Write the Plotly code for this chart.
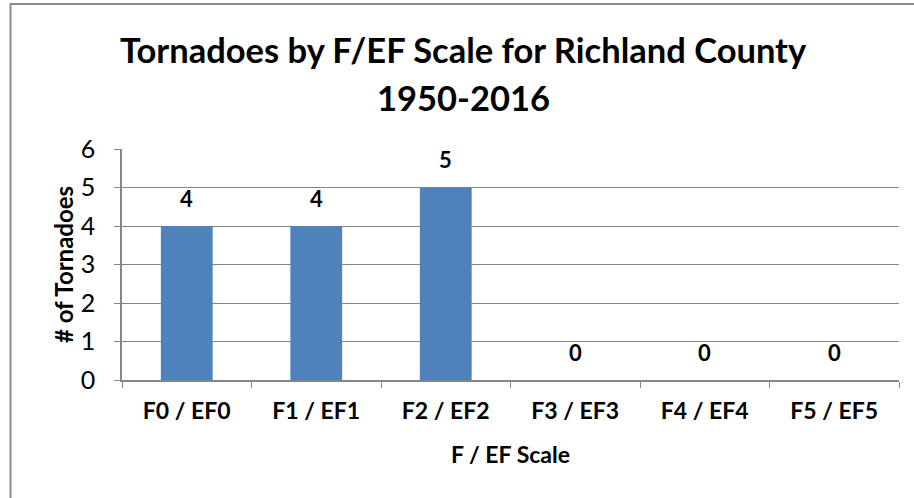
import plotly.graph_objects as go

categories = ["F0 / EF0", "F1 / EF1", "F2 / EF2", "F3 / EF3", "F4 / EF4", "F5 / EF5"]
counts = [4, 4, 5, 0, 0, 0]
title_line1 = "Tornadoes by F/EF Scale for Richland County"
title_line2 = "1950-2016"

FONT = "Lato"
W, H = 914, 498
L, R, T, B = 122, 15, 149, 118
pw, ph = W - L - R, H - T - B

fig = go.Figure()
fig.add_trace(go.Bar(
    x=categories, y=counts,
    marker=dict(color="#4F81BD", line=dict(width=0)),
    width=0.4,
    hoverinfo="x+y",
))

for c, v in zip(categories, counts):
    fig.add_annotation(x=c, y=v, xref="x", yref="y", text=f"<b>{v}</b>",
                       showarrow=False, yshift=28, yanchor="middle",
                       font=dict(family=FONT, size=22, color="black"))

def py(ypix):
    return (H - B - ypix) / ph

def px(xpix):
    return (xpix - L) / pw

fig.add_annotation(x=px(463), y=py(50), xref="paper", yref="paper", text=f"<b>{title_line1}</b>",
                   showarrow=False, xanchor="center", yanchor="middle",
                   font=dict(family=FONT, size=34.5, color="black"))
fig.add_annotation(x=px(463), y=py(97), xref="paper", yref="paper", text=f"<b>{title_line2}</b>",
                   showarrow=False, xanchor="center", yanchor="middle",
                   font=dict(family=FONT, size=34.5, color="black"))

# chart-area border (only top and left edges visible in the crop)
fig.add_shape(type="line", xref="paper", yref="paper",
              x0=px(10.5), x1=px(914), y0=py(4), y1=py(4),
              line=dict(color="#8C8C8C", width=2), layer="below")
fig.add_shape(type="line", xref="paper", yref="paper",
              x0=px(10.5), x1=px(10.5), y0=py(3), y1=py(498),
              line=dict(color="#8C8C8C", width=2), layer="below")

fig.update_layout(
    width=W, height=H,
    margin=dict(l=L, r=R, t=T, b=B),
    paper_bgcolor="white", plot_bgcolor="white",
    showlegend=False,
    font=dict(family=FONT, color="black"),
)
fig.update_xaxes(
    type="category", tickson="boundaries", ticks="outside", ticklen=6,
    tickcolor="#868686", showline=True, linecolor="#868686", linewidth=1.5,
    tickfont=dict(family=FONT, size=23, color="black", weight="bold"),
    ticklabelstandoff=10,
    showgrid=False,
    title=dict(text="<b>F / EF Scale</b>", font=dict(family=FONT, size=23, color="black"), standoff=24),
)
fig.update_yaxes(
    range=[0, 6], dtick=1, ticks="outside", ticklen=6, tickcolor="#868686",
    showline=True, linecolor="#868686", linewidth=1.5,
    showgrid=True, gridcolor="#868686", gridwidth=1,
    tickfont=dict(family=FONT, size=25, color="black"),
    ticklabelstandoff=14,
    zeroline=False,
    title=dict(text="<b># of Tornadoes</b>", font=dict(family=FONT, size=24, color="black"), standoff=0),
)

fig.write_html("out.html", config={"displayModeBar": False},
               post_script="document.body.style.margin='0';")
